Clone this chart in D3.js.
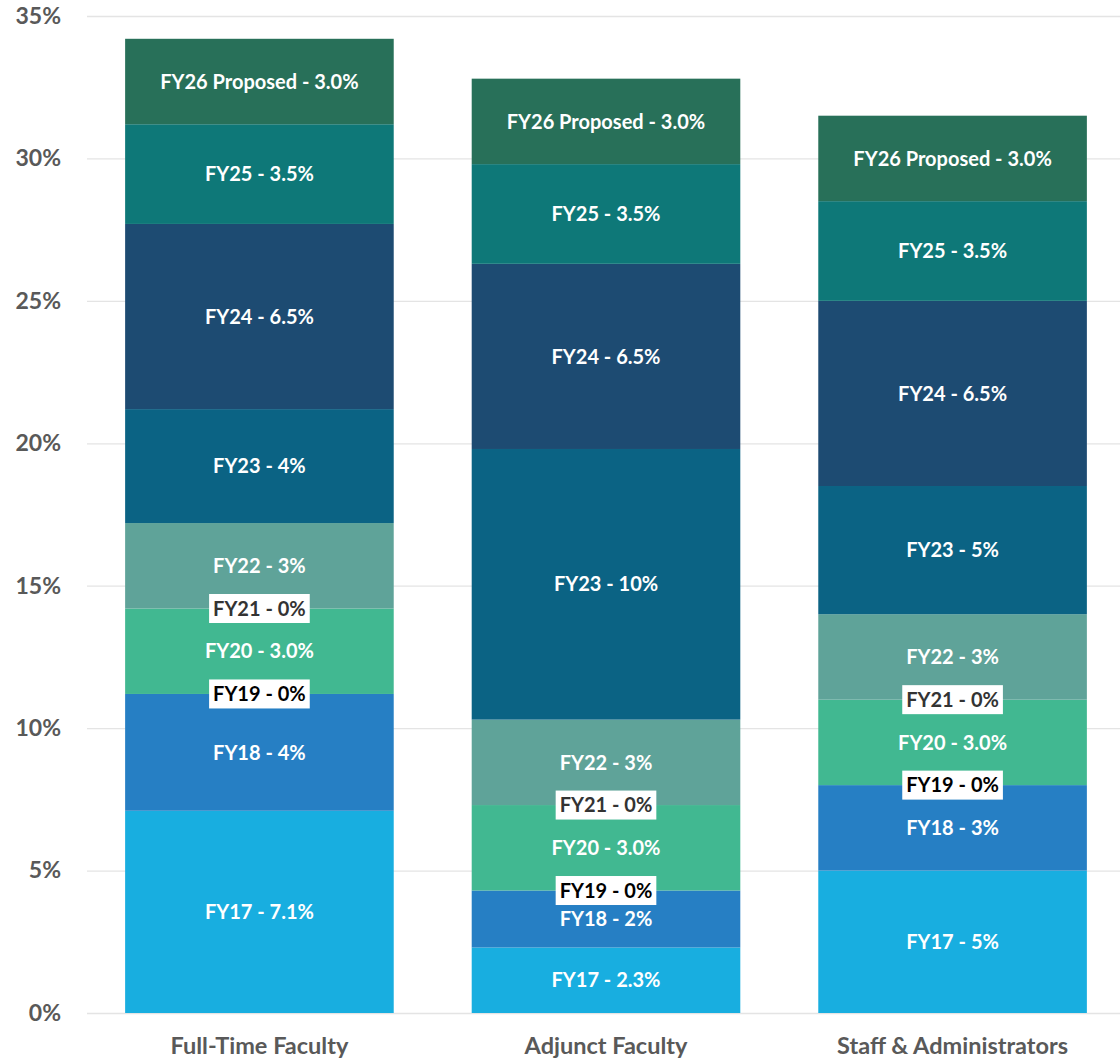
<!DOCTYPE html>
<html>
<head>
<meta charset="utf-8">
<script src="https://cdn.jsdelivr.net/npm/d3@7"></script>
<style>
  body { margin: 0; background: #ffffff; }
  svg { display: block; font-family: Lato, "Open Sans", sans-serif; }
</style>
</head>
<body>
<svg id="chart"></svg>
<script>
// categories along the x axis
const categories = ['Full-Time Faculty', 'Adjunct Faculty', 'Staff & Administrators'];

// stacked series, bottom to top
const seriesKeys = ['FY17', 'FY18', 'FY19', 'FY20', 'FY21', 'FY22', 'FY23', 'FY24', 'FY25', 'FY26'];
const seriesNames = ['FY17', 'FY18', 'FY19', 'FY20', 'FY21', 'FY22', 'FY23', 'FY24', 'FY25', 'FY26 Proposed'];
const seriesColors = ['#18aee0', '#267fc4', '#ffffff', '#41b891', '#ffffff', '#5fa399', '#0b6384', '#1d4b72', '#0e7878', '#287059'];

// values per series, one per category (percent)
const fy17 = [7.1, 2.3, 5.0];
const fy18 = [4.1, 2.0, 3.0];
const fy19 = [0, 0, 0];
const fy20 = [3.0, 3.0, 3.0];
const fy21 = [0, 0, 0];
const fy22 = [3.0, 3.0, 3.0];
const fy23 = [4.0, 9.5, 4.5];
const fy24 = [6.5, 6.5, 6.5];
const fy25 = [3.5, 3.5, 3.5];
const fy26 = [3.0, 3.0, 3.0];

// label text shown for each segment
const fy17Labels = ['7.1%', '2.3%', '5%'];
const fy18Labels = ['4%', '2%', '3%'];
const fy19Labels = ['0%', '0%', '0%'];
const fy20Labels = ['3.0%', '3.0%', '3.0%'];
const fy21Labels = ['0%', '0%', '0%'];
const fy22Labels = ['3%', '3%', '3%'];
const fy23Labels = ['4%', '10%', '5%'];
const fy24Labels = ['6.5%', '6.5%', '6.5%'];
const fy25Labels = ['3.5%', '3.5%', '3.5%'];
const fy26Labels = ['3.0%', '3.0%', '3.0%'];

const yTicks = [0, 5, 10, 15, 20, 25, 30, 35];

const allValues = [fy17, fy18, fy19, fy20, fy21, fy22, fy23, fy24, fy25, fy26];
const allLabels = [fy17Labels, fy18Labels, fy19Labels, fy20Labels, fy21Labels,
                   fy22Labels, fy23Labels, fy24Labels, fy25Labels, fy26Labels];

const table = categories.map((c, i) => {
  const row = { category: c };
  seriesKeys.forEach((k, j) => { row[k] = allValues[j][i]; });
  return row;
});

const width = 1120, height = 1060;
const margin = { top: 16, right: 0, bottom: 47, left: 87 };

const svg = d3.select('#chart')
  .attr('width', width)
  .attr('height', height);

const x = d3.scaleBand()
  .domain(categories)
  .range([margin.left, margin.left + 346 * 3])
  .paddingInner(0.225)
  .paddingOuter(0.11);

const y = d3.scaleLinear()
  .domain([0, 35])
  .range([height - margin.bottom, margin.top]);

// gridlines + y tick labels
const yAxis = svg.append('g')
  .attr('transform', `translate(${margin.left},0)`)
  .call(d3.axisLeft(y)
    .tickValues(yTicks)
    .tickSize(-(width - margin.left - margin.right))
    .tickPadding(26)
    .tickFormat(d => d + '%'));
yAxis.select('.domain').remove();
yAxis.selectAll('.tick line').attr('stroke', '#e4e4e4').attr('stroke-width', 1.3);
yAxis.selectAll('.tick text')
  .attr('fill', '#595959')
  .attr('font-size', 23)
  .attr('font-weight', 'bold')
  .attr('font-family', 'Lato, sans-serif');

const stack = d3.stack().keys(seriesKeys);
const stacked = stack(table);

const layers = svg.append('g')
  .selectAll('g')
  .data(stacked)
  .join('g')
  .attr('fill', (d, i) => seriesColors[i]);

layers.selectAll('rect')
  .data(d => d)
  .join('rect')
  .attr('x', d => x(d.data.category))
  .attr('width', x.bandwidth())
  .attr('y', d => y(d[1]))
  .attr('height', d => y(d[0]) - y(d[1]));

// segment labels
const labelG = svg.append('g')
  .attr('font-size', 20)
  .attr('font-weight', 'bold')
  .attr('text-anchor', 'middle');

stacked.forEach((layer, j) => {
  layer.forEach((d, i) => {
    const txt = seriesNames[j] + ' - ' + allLabels[j][i];
    const cx = x(d.data.category) + x.bandwidth() / 2;
    const cy = y((d[0] + d[1]) / 2);
    const zero = (d[1] - d[0]) === 0;
    const g = labelG.append('g');
    const t = g.append('text')
      .attr('x', cx)
      .attr('y', cy)
      .attr('dy', '0.36em')
      .attr('fill', zero ? (j === 2 ? '#000000' : '#333333') : '#ffffff')
      .text(txt);
    if (zero) {
      const bb = t.node().getBBox();
      g.insert('rect', 'text')
        .attr('x', bb.x - 4)
        .attr('y', cy - 14.5)
        .attr('width', bb.width + 8)
        .attr('height', 29)
        .attr('fill', '#ffffff');
    }
  });
});

// category labels
svg.append('g')
  .selectAll('text')
  .data(categories)
  .join('text')
  .attr('x', d => x(d) + x.bandwidth() / 2)
  .attr('y', height - margin.bottom + 33)
  .attr('dy', '0.36em')
  .attr('text-anchor', 'middle')
  .attr('fill', '#595959')
  .attr('font-size', 23.5)
  .attr('font-weight', 'bold')
  .text(d => d);
</script>
</body>
</html>
